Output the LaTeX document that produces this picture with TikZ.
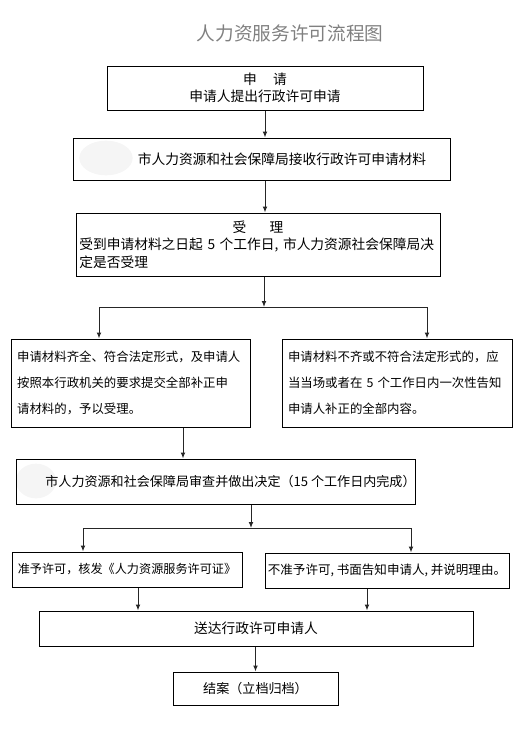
\documentclass[tikz,border=0pt]{standalone}
\usepackage{fontspec}
\setmainfont{Noto Sans CJK SC}
\usetikzlibrary{arrows.meta}
\begin{document}
\begin{tikzpicture}[x=0.75pt, y=-0.75pt, >={Latex[length=4.5pt,width=3.6pt]},
  box/.style={draw, line width=0.75pt, inner sep=0pt},
  bigfont/.style={font=\fontsize{10.3}{13}\selectfont},
  midfont/.style={font=\fontsize{9.8}{12}\selectfont},
  smallfont/.style={font=\fontsize{9.3}{19.5}\selectfont},
  link/.style={->, line width=0.75pt, black!85}]
\useasboundingbox (0,0) rectangle (528,746);
% title
\node[text=gray, font=\fontsize{14}{16}\selectfont] (title) at (290,33) {人力资服务许可流程图};
% masked patches
\fill[gray!8] (106,158) ellipse [x radius=20pt, y radius=13pt];
\fill[gray!8] (36,481) ellipse [x radius=15pt, y radius=13pt];
% boxes
\node[box, bigfont, minimum width=237pt, minimum height=33pt, align=center] (apply) at (265,88)
  {申\hspace{1.2em}请\\申请人提出行政许可申请};
\node[box, bigfont, minimum width=282.75pt, minimum height=31.5pt] (receive) at (261.5,159)
  {\hspace*{30.75pt}市人力资源和社会保障局接收行政许可申请材料};
\node[box, bigfont, minimum width=273pt, minimum height=47.25pt, text width=268pt, align=left] (accept) at (258,244.5)
  {\makebox[268pt]{受\hspace{1.7em}理}\\受到申请材料之日起 5 个工作日, 市人力资源社会保障局决\\定是否受理};
\node[box, smallfont, minimum width=179.25pt, minimum height=66pt, text width=170pt, align=left] (ok) at (130.5,383)
  {申请材料齐全、符合法定形式，及申请人\\按照本行政机关的要求提交全部补正申\\请材料的，予以受理。};
\node[box, smallfont, minimum width=172.5pt, minimum height=66pt, text width=163.5pt, align=left] (notok) at (397,383)
  {申请材料不齐或不符合法定形式的，应\\当当场或者在 5 个工作日内一次性告知\\申请人补正的全部内容。};
\node[box, midfont, minimum width=298.5pt, minimum height=33.75pt] (review) at (216,481.5)
  {\hspace*{21.75pt}市人力资源和社会保障局审查并做出决定（15 个工作日内完成）};
\node[box, midfont, font=\fontsize{9.1}{12}\selectfont, minimum width=172.5pt, minimum height=26.25pt] (grant) at (127,569.5)
  {准予许可，核发《人力资源服务许可证》};
\node[box, midfont, font=\fontsize{9.4}{12}\selectfont, minimum width=183pt, minimum height=26.25pt] (deny) at (387,570.5)
  {不准予许可, 书面告知申请人, 并说明理由。};
\node[box, bigfont, minimum width=325.5pt, minimum height=26.25pt] (deliver) at (256,628.5)
  {送达行政许可申请人};
\node[box, midfont, minimum width=123.75pt, minimum height=24.75pt] (close) at (255.5,688.5)
  {结案（立档归档）};
% forks
\coordinate (fork1) at (264,307);
\coordinate (fork1l) at (99,307);
\coordinate (fork1r) at (427,307);
\coordinate (okout) at (183,0);
\coordinate (fork2) at (251,528);
\coordinate (fork2l) at (83,528);
\coordinate (fork2r) at (411,528);
\coordinate (grantout) at (138,0);
\coordinate (denyout) at (367,0);
% connectors
\draw[link] (apply.south) -- (apply.south |- receive.north);
\draw[link] (apply.south |- receive.south) -- (apply.south |- accept.north);
\draw[link] (fork1 |- accept.south) -- (fork1);
\draw[line width=0.75pt, black!85] (fork1l) -- (fork1r);
\draw[link] (fork1l) -- (fork1l |- ok.north);
\draw[link] (fork1r) -- (fork1r |- notok.north);
\draw[link] (okout |- ok.south) -- (okout |- review.north);
\draw[link] (fork2 |- review.south) -- (fork2);
\draw[line width=0.75pt, black!85] (fork2l) -- (fork2r);
\draw[link] (fork2l) -- (fork2l |- grant.north);
\draw[link] (fork2r) -- (fork2r |- deny.north);
\draw[link] (grantout |- grant.south) -- (grantout |- deliver.north);
\draw[link] (denyout |- deny.south) -- (denyout |- deliver.north);
\draw[link] (deliver.south -| close.north) -- (close.north);
\end{tikzpicture}
\end{document}
